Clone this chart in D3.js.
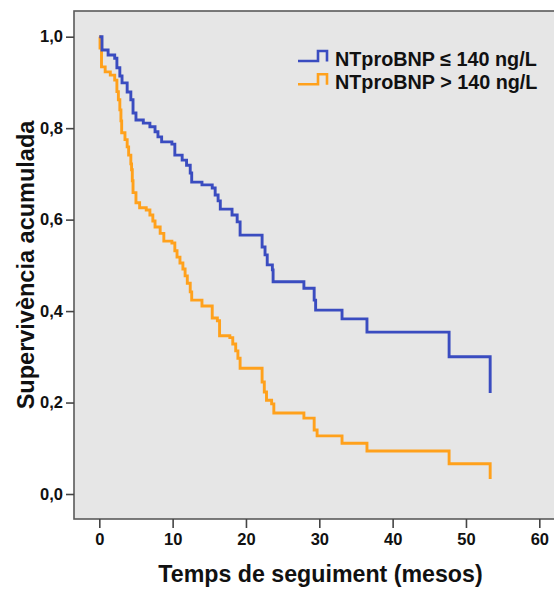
<!DOCTYPE html>
<html>
<head>
<meta charset="utf-8">
<title>Supervivència acumulada</title>
<script src="https://d3js.org/d3.v7.min.js"></script>
<style>
  body { margin: 0; background: #fff; }
  text { font-family: "Liberation Sans", Arial, sans-serif; font-weight: bold; fill: #111; }
</style>
</head>
<body>
<div id="chart"></div>
<script type="text/javascript">
    // Kaplan-Meier steps: time (months) and survival after each drop
    var lowTimes  = [0, 0.37, 1.2, 2.1, 2.4, 2.8, 3.1, 3.8, 4.3, 4.6, 5.0, 6.0, 6.9, 7.6, 8.0, 8.5, 9.9, 10.3, 11.3, 11.9, 12.4, 12.6, 14.0, 15.4, 15.8, 16.2, 16.5, 18.1, 18.8, 19.2, 22.2, 22.6, 22.9, 23.6, 23.7, 27.9, 29.3, 29.5, 33.1, 36.5, 47.7, 53.3];
    var lowSurv   = [1.0, 0.971, 0.960, 0.953, 0.932, 0.914, 0.899, 0.879, 0.862, 0.833, 0.818, 0.811, 0.803, 0.792, 0.781, 0.770, 0.765, 0.741, 0.730, 0.719, 0.702, 0.682, 0.676, 0.669, 0.654, 0.641, 0.623, 0.610, 0.595, 0.566, 0.540, 0.523, 0.501, 0.490, 0.464, 0.450, 0.424, 0.402, 0.383, 0.354, 0.300, 0.221];
    var highTimes = [0, 0.1, 0.3, 0.8, 1.5, 2.1, 2.4, 2.6, 2.8, 2.95, 3.05, 3.5, 3.8, 4.0, 4.3, 4.4, 4.5, 4.6, 5.0, 5.5, 6.4, 6.9, 7.3, 7.6, 8.3, 8.8, 9.9, 10.3, 10.6, 11.0, 11.4, 11.7, 12.0, 12.4, 12.6, 14.0, 15.4, 16.1, 16.4, 17.8, 18.2, 18.6, 18.9, 19.2, 22.2, 22.5, 22.8, 23.5, 23.8, 27.9, 29.3, 29.7, 33.1, 36.5, 47.7, 53.3];
    var highSurv  = [1.0, 0.975, 0.934, 0.923, 0.916, 0.905, 0.880, 0.862, 0.840, 0.816, 0.790, 0.775, 0.759, 0.741, 0.722, 0.709, 0.685, 0.659, 0.637, 0.626, 0.621, 0.610, 0.597, 0.584, 0.570, 0.553, 0.549, 0.532, 0.518, 0.505, 0.492, 0.477, 0.461, 0.442, 0.424, 0.411, 0.385, 0.379, 0.346, 0.342, 0.328, 0.313, 0.297, 0.275, 0.245, 0.223, 0.205, 0.197, 0.177, 0.166, 0.140, 0.127, 0.111, 0.094, 0.066, 0.033];

    var groupNames  = ["NTproBNP \u2264 140 ng/L", "NTproBNP > 140 ng/L"];
    var groupColors = ["#3a4cc0", "#ffa11c"];
    var xTicks = [0, 10, 20, 30, 40, 50, 60];
    var yTicks = [0, 0.2, 0.4, 0.6, 0.8, 1.0];
    var xTitle = "Temps de seguiment (mesos)",
        yTitle = "Supervivència acumulada";

    var width = 554, height = 589,
        frame = { left: 74, top: 11, bottom: 519, right: 560 };

    var x = d3.scaleLinear().domain([0, 60]).range([99.3, 539.3]);
    var y = d3.scaleLinear().domain([0, 1]).range([494, 36.7]);

    var svg = d3.select("#chart").append("svg")
        .attr("width", width)
        .attr("height", height);

    svg.append("rect")
        .attr("x", frame.left)
        .attr("y", frame.top)
        .attr("width", frame.right - frame.left)
        .attr("height", frame.bottom - frame.top)
        .style("fill", "#e6e6e6")
        .style("stroke", "#5a5a5a")
        .style("stroke-width", 1.6);

    var fmt = function(d) { return d3.format(".1f")(d).replace(".", ","); };

    var yAxis = svg.append("g")
        .attr("transform", "translate(" + frame.left + ",0)")
        .call(d3.axisLeft(y).tickValues(yTicks).tickFormat(fmt).tickSizeOuter(0).tickSize(8).tickPadding(3));

    var xAxis = svg.append("g")
        .attr("transform", "translate(0," + frame.bottom + ")")
        .call(d3.axisBottom(x).tickValues(xTicks).tickSizeOuter(0).tickSize(9).tickPadding(5));

    [xAxis, yAxis].forEach(function(g) {
        g.select(".domain").remove();
        g.selectAll("line").style("stroke", "#444").style("stroke-width", 1.6);
        g.selectAll("text")
            .style("font-family", "'Liberation Sans', Arial, sans-serif")
            .style("font-weight", "bold")
            .style("font-size", "16.5px")
            .style("fill", "#111");
    });

    var line = d3.line()
        .x(function(d) { return x(d[0]); })
        .y(function(d) { return y(d[1]); })
        .curve(d3.curveStepAfter);

    var series = [d3.zip(lowTimes, lowSurv), d3.zip(highTimes, highSurv)];

    // orange drawn first so blue sits on top where they touch at t = 0
    [1, 0].forEach(function(i) {
        svg.append("path")
            .datum(series[i])
            .attr("d", line)
            .style("fill", "none")
            .style("stroke", groupColors[i])
            .style("stroke-width", 2.9);
    });

    // legend with the little step glyph
    var legend = svg.selectAll(".legend")
        .data(groupNames)
        .enter().append("g")
        .attr("class", "legend")
        .attr("transform", function(d, i) { return "translate(0," + (i * 23.3) + ")"; });

    legend.append("path")
        .attr("d", "M298,61 H318 V51 H327 V61.5")
        .style("fill", "none")
        .style("stroke", function(d, i) { return groupColors[i]; })
        .style("stroke-width", 2.6);

    legend.append("text")
        .attr("x", 335)
        .attr("y", 65.5)
        .style("font-size", "19.8px")
        .text(function(d) { return d; });

    svg.append("text")
        .attr("x", 320.5)
        .attr("y", 582)
        .style("text-anchor", "middle")
        .style("font-size", "23.2px")
        .text(xTitle);

    svg.append("text")
        .attr("transform", "translate(33.5,265) rotate(-90)")
        .style("text-anchor", "middle")
        .style("font-size", "23.5px")
        .text(yTitle);
</script>
</body>
</html>
